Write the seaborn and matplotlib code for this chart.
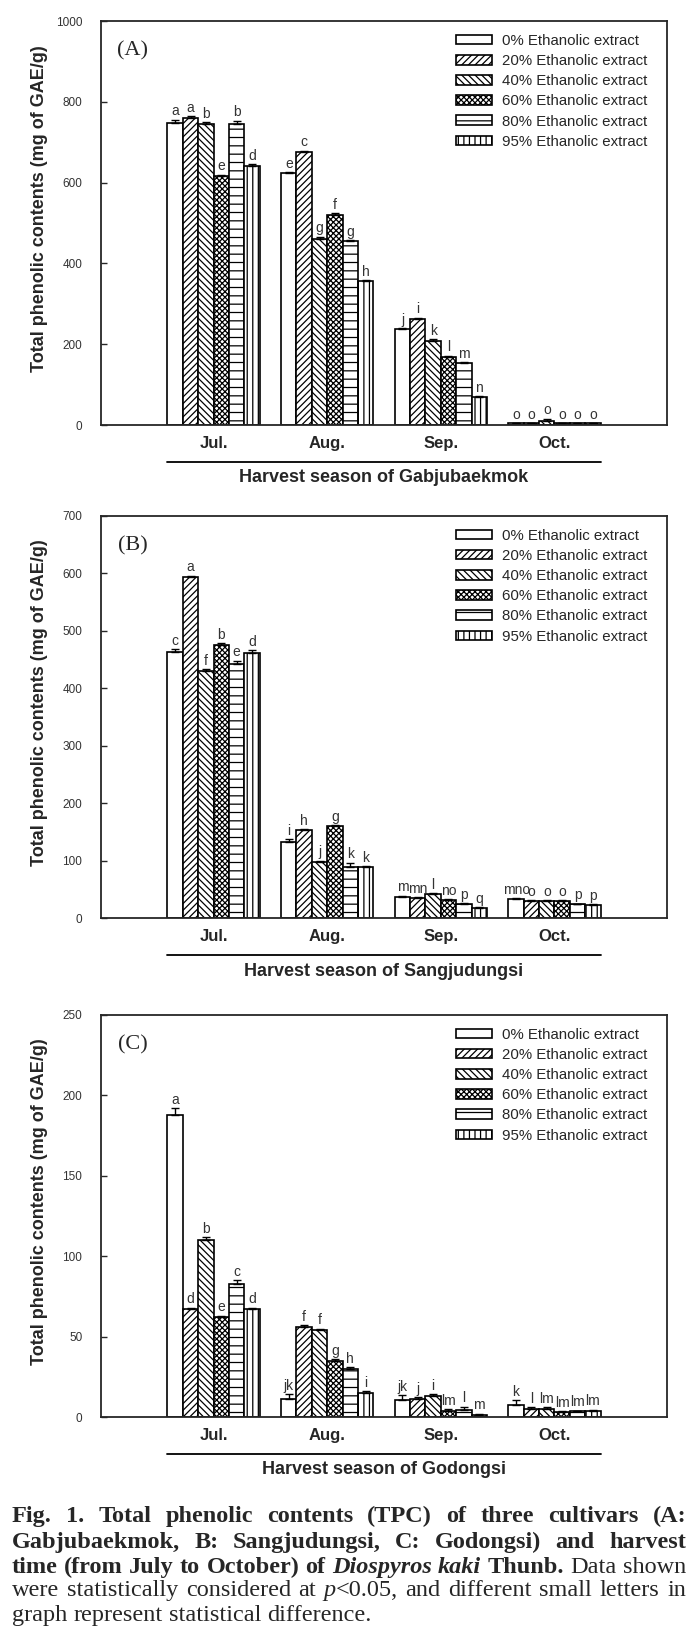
import matplotlib

matplotlib.use("Agg")  # headless backend
import matplotlib.pyplot as plt  # noqa: E402
import seaborn as sns  # noqa: E402
import numpy as np  # noqa: E402
import pandas as pd  # noqa: E402

# ---- data ---------------------------------------------------------------
months = ["Jul.", "Aug.", "Sep.", "Oct."]
solvents = [
    "0% Ethanolic extract",
    "20% Ethanolic extract",
    "40% Ethanolic extract",
    "60% Ethanolic extract",
    "80% Ethanolic extract",
    "95% Ethanolic extract",
]

# rows = months, columns = solvents (mg GAE/g)
gab_tpc = [[748, 759, 745, 617, 744, 642],
           [623, 675, 460, 521, 455, 356],
           [237, 263, 209, 169, 153, 70],
           [4, 4, 10, 4, 4, 4]]
gab_err = [[8, 5, 4, 3, 9, 3],
           [3, 4, 6, 3, 3, 3],
           [3, 3, 3, 3, 3, 2],
           [1, 1, 6, 1, 1, 1]]
gab_letters = [["a", "a", "b", "e", "b", "d"],
               ["e", "c", "g", "f", "g", "h"],
               ["j", "i", "k", "l", "m", "n"],
               ["o", "o", "o", "o", "o", "o"]]

sang_tpc = [[464, 593, 430, 475, 442, 462],
            [133, 153, 97, 160, 89, 88],
            [37, 34, 41, 31, 24, 17],
            [33, 30, 30, 30, 24, 23]]
sang_err = [[4, 3, 3, 4, 6, 4],
            [4, 2, 3, 2, 7, 2],
            [2, 2, 2, 2, 2, 2],
            [2, 1, 1, 1, 1, 1]]
sang_letters = [["c", "a", "f", "b", "e", "d"],
                ["i", "h", "j", "g", "k", "k"],
                ["m", "mn", "l", "no", "p", "q"],
                ["mno", "o", "o", "o", "p", "p"]]

godo_tpc = [[188, 67, 110, 62, 83, 67],
            [11, 56, 54, 35, 30, 15],
            [10.5, 11.5, 13, 4, 4.5, 1.5],
            [7.5, 5, 5, 3, 3.5, 4]]
godo_err = [[4, 1, 2, 1, 2, 1],
            [3, 1, 1, 1, 1, 1],
            [3, 1, 1, 1, 2, 0.5],
            [3, 1, 1, 0.5, 0.5, 0.5]]
godo_letters = [["a", "d", "b", "e", "c", "d"],
                ["jk", "f", "f", "g", "h", "i"],
                ["jk", "j", "i", "lm", "l", "m"],
                ["k", "l", "lm", "lm", "lm", "lm"]]

cultivars = ["Gabjubaekmok", "Sangjudungsi", "Godongsi"]
panel_tags = ["(A)", "(B)", "(C)"]
y_max = [1000, 700, 250]
y_step = [200, 100, 50]

caption_lines = [
    [("Fig. 1. Total phenolic contents (TPC) of three cultivars (A:", "bold", "normal")],
    [("Gabjubaekmok, B: Sangjudungsi, C: Godongsi) and harvest", "bold", "normal")],
    [("time (from July to October) of ", "bold", "normal"),
     ("Diospyros kaki", "bold", "italic"),
     (" Thunb.", "bold", "normal"),
     (" Data shown", "normal", "normal")],
    [("were statistically considered at ", "normal", "normal"),
     ("p", "normal", "italic"),
     ("<0.05, and different small letters in", "normal", "normal")],
    [("graph represent statistical difference.", "normal", "normal")],
]

# ---- styling ---------------------------------------------------------------
hatches = ["", "/////", "\\\\\\\\\\", "xxxxxx", "--", "|||"]
W, H = 699, 1645
axes_px = [(21, 425), (516, 918), (1015, 1417)]
LEFT, RIGHT = 101, 667
CAP_FS = 17.5
CAP_X0, CAP_X1 = 12, 686
cap_base = [1522, 1548, 1573, 1596, 1621]

sns.set_style("ticks")
plt.rcParams["font.family"] = ["Liberation Sans", "DejaVu Sans"]
plt.rcParams["hatch.linewidth"] = 0.9

fig = plt.figure(figsize=(W / 100, H / 100), dpi=100)

panels = [
    (gab_tpc, gab_err, gab_letters),
    (sang_tpc, sang_err, sang_letters),
    (godo_tpc, godo_err, godo_letters),
]

for i, (vals, errs, letters) in enumerate(panels):
    top, bot = axes_px[i]
    ax_h = bot - top
    ax = fig.add_axes([LEFT / W, 1 - bot / H, (RIGHT - LEFT) / W, ax_h / H])

    df = pd.DataFrame({
        "month": np.repeat(months, len(solvents)),
        "solvent": solvents * len(months),
        "tpc": np.ravel(vals),
    })
    sns.barplot(data=df, x="month", y="tpc", hue="solvent", order=months,
                hue_order=solvents, palette={s: "white" for s in solvents},
                saturation=1, edgecolor="black", linewidth=1.2, width=0.81,
                errorbar=None, legend=False, ax=ax)

    bars = sorted(ax.containers, key=lambda c: min(p.get_x() for p in c.patches))
    xs, ys, es, labs = [], [], [], []
    for k, cont in enumerate(bars):
        patches = sorted(cont.patches, key=lambda p: p.get_x())
        for j, p in enumerate(patches):
            p.set_hatch(hatches[k])
            xs.append(p.get_x() + p.get_width() / 2)
            ys.append(p.get_height())
            es.append(errs[j][k])
            labs.append(letters[j][k])

    es = np.array(es, dtype=float)
    ax.errorbar(xs, ys, yerr=[np.zeros_like(es), es], fmt="none",
                ecolor="black", elinewidth=1.0, capsize=3, capthick=1.0)
    for x, y, e, lab in zip(xs, ys, es, labs):
        ax.annotate(lab, (x, y + e), xytext=(0, 1), textcoords="offset points",
                    ha="center", va="bottom", fontsize=10, color="#333333")

    ax.set_xlim(-0.99, 3.99)
    ax.set_ylim(0, y_max[i])
    ax.set_yticks(np.arange(0, y_max[i] + 1, y_step[i]))
    ax.set_xlabel("")
    ax.set_ylabel("")
    for s in ax.spines.values():
        s.set_visible(True)
        s.set_linewidth(1.3)
    ax.tick_params(axis="y", direction="in", length=4, width=1, pad=13.5,
                   labelsize=8.5, labelcolor="#333333")
    ax.tick_params(axis="x", length=0, pad=8, labelsize=12)
    for t in ax.get_xticklabels():
        t.set_fontweight("bold")

    # bracket line and x title under the month labels
    x_lo = min(p.get_x() for p in bars[0].patches)
    x_hi = max(p.get_x() + p.get_width() for p in bars[-1].patches)
    tr = ax.get_xaxis_transform()
    ax.plot([x_lo, x_hi], [-37 / ax_h] * 2, transform=tr, clip_on=False,
            color="black", lw=1.3)
    ax.text((x_lo + x_hi) / 2, -53 / ax_h, f"Harvest season of {cultivars[i]}",
            transform=tr, ha="center", va="center", fontsize=13, fontweight="bold")

    ax.text(-0.108, 0.535, "Total phenolic contents (mg of GAE/g)", rotation=90,
            transform=ax.transAxes, ha="center", va="center", fontsize=13,
            fontweight="bold")
    ax.text(0.0565, 0.925, panel_tags[i], transform=ax.transAxes, ha="center",
            va="center", fontsize=16, family="Liberation Serif")

    ax.legend(handles=[c.patches[0] for c in bars], labels=solvents,
              loc="upper left", bbox_to_anchor=(0.627, 0.968), frameon=False,
              fontsize=10.8, handlelength=2.4, handleheight=0.6,
              handletextpad=0.65, labelspacing=0.41, borderpad=0,
              borderaxespad=0)

# ---- justified caption -------------------------------------------------------
renderer = fig.canvas.get_renderer()


def _width(txt, weight, style):
    t = fig.text(0, 0, txt, fontsize=CAP_FS, fontweight=weight, fontstyle=style,
                 family="Liberation Serif")
    w = t.get_window_extent(renderer).width
    t.remove()
    return w


space_w = _width("a a", "normal", "normal") - _width("aa", "normal", "normal")


def split_words(segments):
    words = [[]]
    for txt, wt, st in segments:
        for n, part in enumerate(txt.split(" ")):
            if n > 0:
                words.append([])
            if part:
                words[-1].append((part, wt, st))
    return [w for w in words if w]


for li, segs in enumerate(caption_lines):
    words = split_words(segs)
    rows, widths = [], []
    for w in words:
        row = []
        for txt, wt, st in w:
            t = fig.text(0, 1 - cap_base[li] / H, txt, fontsize=CAP_FS,
                         fontweight=wt, fontstyle=st, family="Liberation Serif",
                         ha="left", va="baseline")
            row.append((t, t.get_window_extent(renderer).width))
        rows.append(row)
        widths.append(sum(bw for _, bw in row))
    last = li == len(caption_lines) - 1
    gap = space_w if last else (CAP_X1 - CAP_X0 - sum(widths)) / (len(words) - 1)
    x = CAP_X0
    for row in rows:
        for t, bw in row:
            t.set_x(x / W)
            x += bw
        x += gap

fig.savefig("out.png", dpi=100)
plt.close(fig)
